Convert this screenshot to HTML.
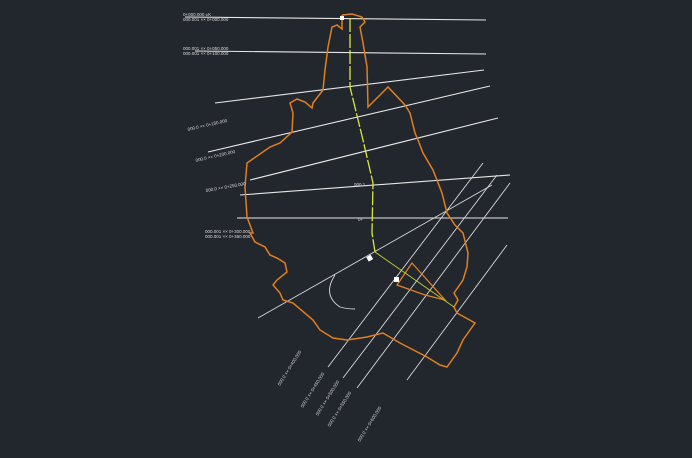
<!DOCTYPE html>
<html><head><style>html,body{margin:0;padding:0;background:#22272e;}svg{display:block}text{font-family:"Liberation Sans",sans-serif;fill:#d8d8d8;font-size:4.5px}</style></head>
<body>
<svg width="692" height="458" viewBox="0 0 692 458" xmlns="http://www.w3.org/2000/svg">
<rect width="692" height="458" fill="#22272e"/>
<g stroke="#e6e6e6" stroke-width="1.1" fill="none">
<line x1="185" y1="17" x2="486" y2="20"/>
<line x1="195" y1="51" x2="486" y2="54"/>
<line x1="215" y1="103" x2="484" y2="70"/>
<line x1="208" y1="152" x2="490" y2="86"/>
<line x1="250" y1="180" x2="498" y2="118"/>
<line x1="240" y1="195" x2="510" y2="175"/>
<line x1="237" y1="218" x2="508" y2="218"/>
</g>
<g stroke="#d8d8d8" stroke-width="0.9" fill="none">
<line x1="258" y1="318" x2="492" y2="185"/>
<line x1="328" y1="367" x2="483" y2="163"/>
<line x1="343" y1="378" x2="497" y2="175"/>
<line x1="357" y1="388" x2="510" y2="183"/>
<line x1="407" y1="380" x2="507" y2="245"/>
<path d="M335,275 Q322,295 340,307 Q347,309 355,309"/>
</g>
<polyline fill="none" stroke="#e07f1f" stroke-width="1.5" points="342,15 352,14 362,17 365,22 360,27 363,43 367,67 368,107 388,87 405,105 410,113 415,133 418,140 423,153 433,170 442,193 447,213 455,225 463,233 468,253 467,267 463,280 454,293 458,300 454,307 457,313 475,323 470,330 463,340 457,353 447,367 440,365 427,357 400,343 383,333 367,337 347,340 333,338 320,330 313,320 293,303 283,300 280,293 273,285 277,280 287,272 285,263 277,258 270,255 265,247 255,242 250,233 253,233 247,217 245,187 247,163 270,147 280,143 292,132 293,113 290,103 297,99 305,102 312,108 313,103 323,90 325,70 328,47 332,27 337,25 342,29 342,15"/>
<polygon fill="none" stroke="#e07f1f" stroke-width="1.3" points="412,263 397,285 425,295 445,300"/>
<polyline fill="none" stroke="#d8e83a" stroke-width="1.3" stroke-dasharray="14,2" points="350,18 350,87 363,140 373,183 372,233 375,252"/>
<polyline fill="none" stroke="#b8cc30" stroke-width="1" points="375,252 454,307"/>
<g fill="#fff"><rect x="367" y="256" width="5" height="5" transform="rotate(-30 369 258)"/><rect x="394" y="277" width="5" height="5"/><rect x="340" y="16" width="4" height="4"/></g>
<text x="183" y="16">0+000.000 ±K</text><text x="183" y="21">000.001 ×× 0+000.000</text>
<text x="183" y="50">000.001 ×× 0+050.000</text><text x="183" y="55">000.001 ×× 0+100.000</text>
<text x="188" y="131" transform="rotate(-13 188 131)">000.0 ×× 0+150.000</text>
<text x="196" y="162" transform="rotate(-13 196 162)">000.0 ×× 0+200.000</text>
<text x="206" y="192" transform="rotate(-10 206 192)">000.0 ×× 0+250.000</text>
<text x="205" y="233">000.001 ×× 0+300.000</text><text x="205" y="238">000.001 ×× 0+350.000</text>
<text x="280" y="386" transform="rotate(-58 280 386)">000.0 ×× 0+400.000</text>
<text x="303" y="408" transform="rotate(-58 303 408)">000.0 ×× 0+450.000</text>
<text x="318" y="416" transform="rotate(-58 318 416)">000.0 ×× 0+500.000</text>
<text x="330" y="427" transform="rotate(-58 330 427)">000.0 ×× 0+550.000</text>
<text x="360" y="442" transform="rotate(-58 360 442)">000.0 ×× 0+600.000</text>
<text x="354" y="186">000.1</text><text x="358" y="221">0+</text>
</svg>
</body></html>
